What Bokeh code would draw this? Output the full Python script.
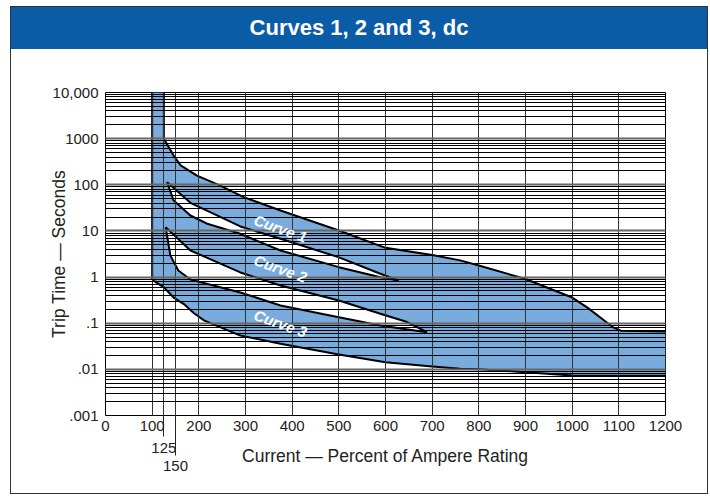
from bokeh.plotting import figure
from bokeh.models import Range1d, FixedTicker, CustomJSTickFormatter, Label, Div, LinearAxis
from bokeh.layouts import column
from bokeh.embed import file_html
from bokeh.resources import INLINE

# ---------------- data ----------------
title_text = "Curves 1, 2 and 3, dc"
x_label = "Current \u2014 Percent of Ampere Rating"
y_label = "Trip Time \u2014 Seconds"

x_ticks = [0, 100, 200, 300, 400, 500, 600, 700, 800, 900, 1000, 1100, 1200]
x_grid_ticks = [100, 125, 150, 200, 300, 400, 500, 600, 700, 800, 900, 1000, 1100]
extra_x_ticks = [125, 150]

y_ticks = [0.001, 0.01, 0.1, 1, 10, 100, 1000, 10000]
y_tick_labels = [".001", ".01", ".1", "1", "10", "100", "1000", "10,000"]
y_minor = [k * 10.0 ** d for d in range(-3, 4) for k in range(2, 10)]

# outer envelope (upper edge of Curve 1 band)
upper_x = [125, 125, 146, 161, 196, 246, 296, 375, 500, 600, 700, 760, 800, 900, 1000, 1032, 1089, 1104, 1200]
upper_y = [10000, 1000, 430, 263, 158, 96, 54, 27.8, 10.2, 4.3, 3.0, 2.3, 1.78, 0.91, 0.36, 0.22, 0.08, 0.069, 0.066]

# outer envelope (left edge + lower edge of Curve 3 band)
lower_x = [100, 100, 102, 125, 146, 168, 189, 211, 289, 375, 500, 600, 700, 760, 800, 900, 1000, 1100, 1200]
lower_y = [10000, 0.9, 0.85, 0.6, 0.36, 0.26, 0.167, 0.115, 0.054, 0.036, 0.021, 0.0142, 0.0115, 0.0103, 0.0101, 0.0087, 0.0074, 0.0073, 0.0073]

# lower edge of Curve 1 band
c1_low_x = [132, 182, 289, 375, 499, 589, 628]
c1_low_y = [114, 40.7, 12.5, 6.75, 2.7, 1.18, 0.843]

# upper edge of Curve 2 band
c2_up_x = [132, 146, 182, 218, 289, 375, 500, 589, 628]
c2_up_y = [114, 45.6, 21.6, 14.3, 8.66, 3.77, 1.64, 0.99, 0.843]

# lower edge of Curve 2 band
c2_low_x = [129, 182, 289, 375, 500, 589, 643, 689]
c2_low_y = [12.0, 3.77, 1.26, 0.656, 0.31, 0.16, 0.109, 0.0638]

# upper edge of Curve 3 band
c3_up_x = [129, 139, 156, 182, 289, 375, 500, 589, 689]
c3_up_y = [12.0, 2.93, 1.39, 0.885, 0.463, 0.242, 0.135, 0.089, 0.0638]

curve_labels = ["Curve 1", "Curve 2", "Curve 3"]
curve_label_x = [375, 375, 375]
curve_label_y = [11.3, 1.53, 0.0986]

# ---------------- styles ----------------
BAND = "#79acdd"
BAR = "#0b5ca7"
TXT = "#222222"
FONT = "Liberation Sans, Arial, Helvetica, sans-serif"

title_div = Div(
    text=title_text, width=696, height=42, margin=0,
    styles={
        "background-color": BAR, "color": "white",
        "font-family": FONT, "font-weight": "bold", "font-size": "22px",
        "text-align": "center", "line-height": "42px",
    },
)

p = figure(
    width=696, height=444,
    x_range=Range1d(0, 1200), y_range=Range1d(0.001, 10000),
    y_axis_type="log",
    output_backend="svg", toolbar_location=None,
    min_border_left=94, min_border_right=42, min_border_top=43, min_border_bottom=78,
    background_fill_color="white", border_fill_color="white",
)
p.outline_line_color = "black"
p.outline_line_width = 1

# envelope fill and white gaps
p.patch(upper_x + lower_x[::-1], upper_y + lower_y[::-1], fill_color=BAND, line_color=None)
p.patch(c1_low_x + c2_up_x[::-1], c1_low_y + c2_up_y[::-1], fill_color="white", line_color=None)
p.patch(c2_low_x + c3_up_x[::-1], c2_low_y + c3_up_y[::-1], fill_color="white", line_color=None)

for xs, ys in [(upper_x, upper_y), (lower_x, lower_y), (c1_low_x, c1_low_y),
               (c2_up_x, c2_up_y), (c2_low_x, c2_low_y), (c3_up_x, c3_up_y)]:
    p.line(xs, ys, line_color="black", line_width=2, line_join="round")

# grids (drawn over the fill)
p.xgrid.ticker = FixedTicker(ticks=x_grid_ticks)
p.xgrid.grid_line_color = "#333"
p.xgrid.grid_line_width = 1
p.ygrid.ticker = FixedTicker(ticks=y_ticks, minor_ticks=y_minor)
p.ygrid.grid_line_color = "#666"
p.ygrid.grid_line_width = 2
p.ygrid.minor_grid_line_color = "black"
p.ygrid.minor_grid_line_width = 1
p.xgrid.level = "guide"
p.ygrid.level = "guide"


def style_axis(ax):
    ax.axis_line_color = None
    ax.minor_tick_line_color = None
    ax.major_tick_out = 0
    ax.minor_tick_out = 0
    ax.minor_tick_in = 0
    ax.major_label_text_font = FONT
    ax.major_label_text_font_size = "15px"
    ax.major_label_text_color = TXT
    ax.axis_label_text_font = FONT
    ax.axis_label_text_font_size = "17.5px"
    ax.axis_label_text_font_style = "normal"
    ax.axis_label_text_color = TXT


xa = p.xaxis[0]
ya = p.yaxis[0]
for ax in (xa, ya):
    style_axis(ax)
    ax.major_tick_line_color = None
    ax.major_tick_in = 0

xa.ticker = FixedTicker(ticks=x_ticks)
xa.major_label_standoff = 5

ya.ticker = FixedTicker(ticks=y_ticks)
ya.formatter = CustomJSTickFormatter(
    args=dict(tvals=y_ticks, tlabs=y_tick_labels),
    code="""
for (let i = 0; i < tvals.length; i++) {
  if (Math.abs(Math.log10(tick) - Math.log10(tvals[i])) < 1e-6) return tlabs[i];
}
return "";
""")
ya.major_label_standoff = 7
ya.axis_label = y_label
ya.axis_label_standoff = -19

# 125 and 150: staggered labels with leader lines below the main axis
ax125 = LinearAxis(ticker=FixedTicker(ticks=[extra_x_ticks[0]]))
style_axis(ax125)
ax125.major_tick_line_color = TXT
ax125.major_tick_line_width = 1
ax125.major_tick_in = 26
ax125.major_tick_out = 3
ax125.major_label_standoff = 6
p.add_layout(ax125, "below")

ax150 = LinearAxis(ticker=FixedTicker(ticks=[extra_x_ticks[1]]))
style_axis(ax150)
ax150.major_tick_line_color = TXT
ax150.major_tick_line_width = 1
ax150.major_tick_in = 50
ax150.major_label_standoff = 5
ax150.axis_label = x_label
ax150.axis_label_standoff = -28
p.add_layout(ax150, "below")

# curve labels
for lab, lx, ly in zip(curve_labels, curve_label_x, curve_label_y):
    p.add_layout(Label(x=lx, y=ly, text=lab, angle=-0.34,
                       text_align="center", text_baseline="middle",
                       text_font=FONT, text_font_size="15px",
                       text_font_style="bold italic", text_color="white"))

layout = column(title_div, p, margin=(6, 0, 0, 10), styles={"border": "1px solid #333"})

open("out.html", "w").write(file_html(layout, INLINE))
